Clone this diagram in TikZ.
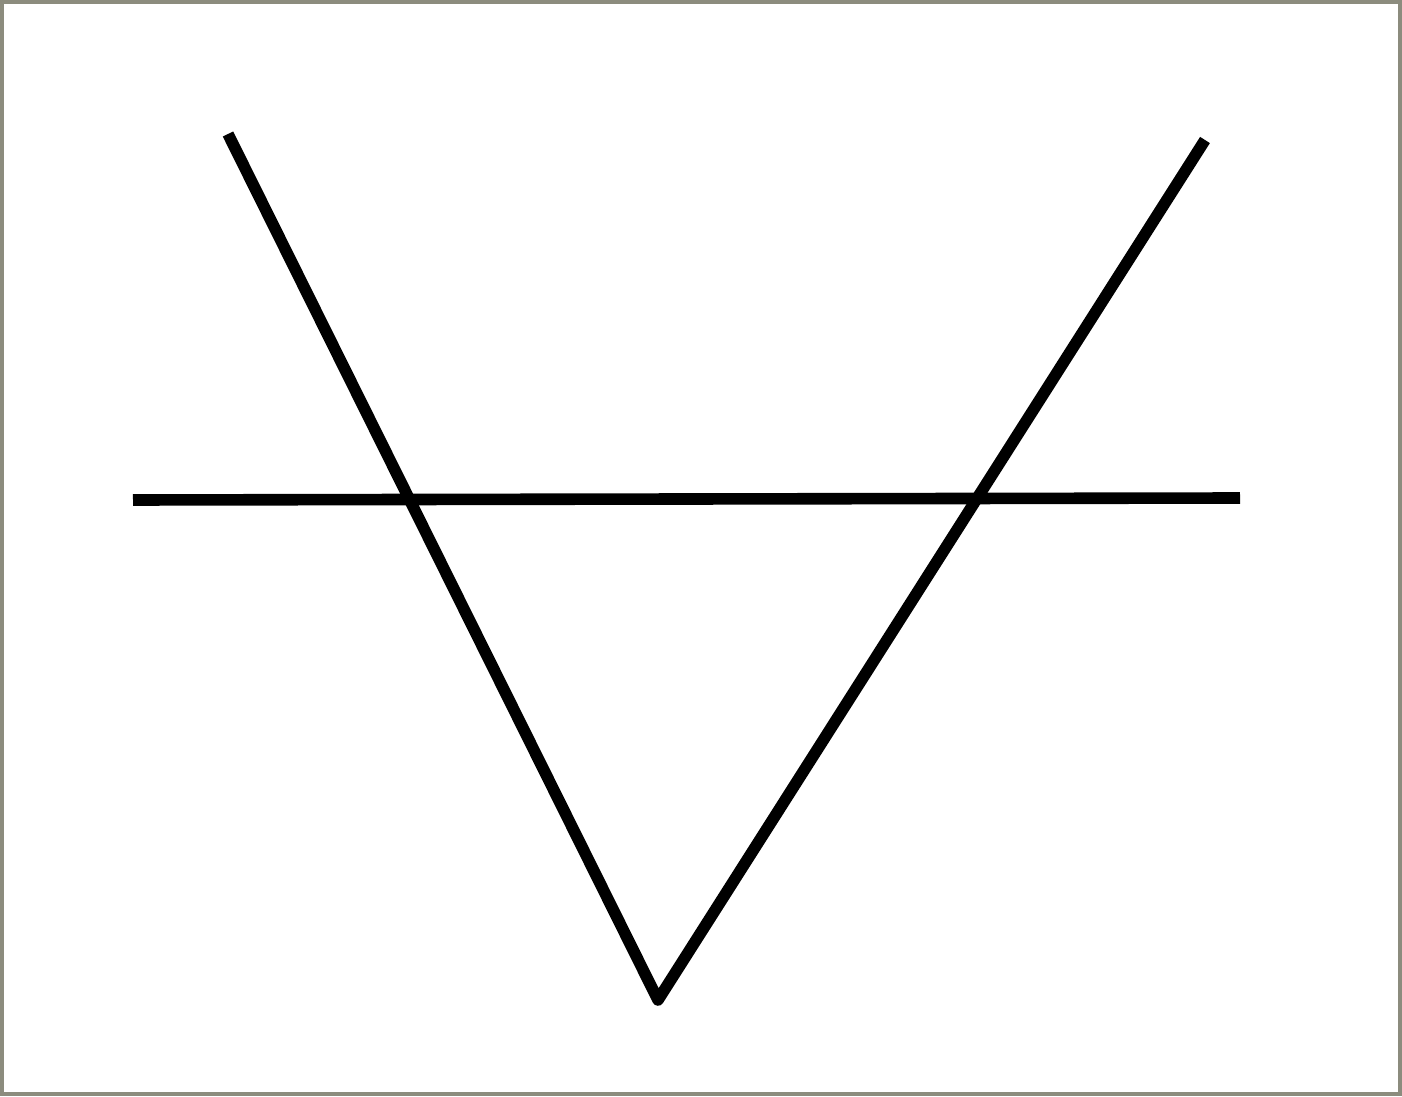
\documentclass[tikz,border=0pt]{standalone}
\definecolor{framegray}{HTML}{8C8C7E}
\begin{document}
\begin{tikzpicture}[
  stroke/.style={line width=3.3pt, black, line cap=butt, line join=round}
]
\useasboundingbox (0,0) rectangle (14.02,10.96);
\fill[white] (0,0) rectangle (14.02,10.96);
\draw[framegray, line width=1.1pt] (0.02,0.02) rectangle (14.00,10.94);
\coordinate (a) at (2.28,9.62);
\coordinate (b) at (6.58,0.96);
\coordinate (c) at (12.05,9.56);
\coordinate (h1) at (1.33,5.96);
\coordinate (h2) at (12.40,5.98);
\draw[stroke] (a) -- (b) -- (c);
\draw[stroke] (h1) -- (h2);
\end{tikzpicture}
\end{document}
